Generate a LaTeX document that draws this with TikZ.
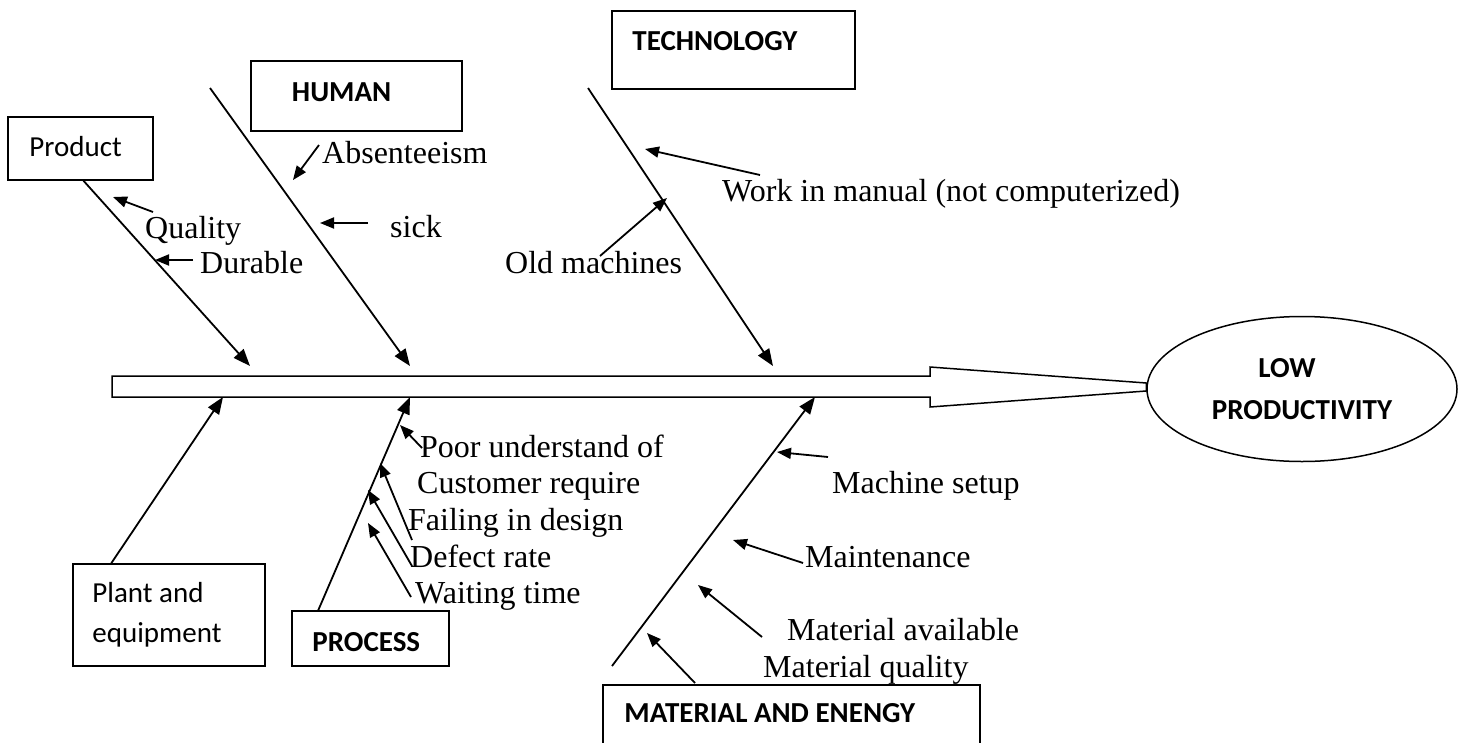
\documentclass[tikz,border=0pt]{standalone}
\usepackage{fontspec}
\setmainfont{Liberation Serif}
\newfontfamily\calibri{Carlito}
\usepackage{tikz}
\usetikzlibrary{shapes.geometric}
\usetikzlibrary{arrows.meta}
\tikzstyle{catbox} = [rectangle, draw=black, line width=1.5pt, inner sep=0pt]
\tikzstyle{catname} = [font=\calibri\fontsize{29}{40}\selectfont, inner sep=0pt, anchor=west, align=left]
\tikzstyle{catbold} = [catname, font=\calibri\bfseries\fontsize{29}{40}\selectfont]
\tikzstyle{cause} = [font=\fontsize{32}{36}\selectfont, inner sep=0pt, anchor=base west]
\tikzstyle{rib} = [line width=1.8pt, -{Triangle[length=17pt,width=13pt]}]
\tikzstyle{sub} = [line width=1.8pt, -{Triangle[length=14pt,width=11pt]}]

\begin{document}
\begin{tikzpicture}[x=1pt, y=-1pt]

\useasboundingbox (0,0) rectangle (1465,742);

% effect and spine
\node (effect) [ellipse, draw=black, line width=1.5pt, minimum width=310pt, minimum height=145pt, align=center, font=\calibri\bfseries\fontsize{29}{42}\selectfont] at (1302,389) {\hspace*{-30pt}LOW\\PRODUCTIVITY};
\draw [line width=1.5pt] (112,376) -- (930,376) -- (930,367) -- ([yshift=6pt]effect.west) -- ([yshift=-2pt]effect.west) -- (930,407) -- (930,397) -- (112,397) -- cycle;

% category boxes
\node (prod) [catbox, minimum width=145pt, minimum height=63pt] at (80.5,148.5) {};
\node [catname] at ([xshift=22pt,yshift=1.5pt]prod.west) {Product};
\node (human) [catbox, minimum width=211pt, minimum height=70pt] at (356.5,96) {};
\node [catbold] at ([xshift=41.5pt,yshift=4pt]human.west) {HUMAN};
\node (tech) [catbox, minimum width=243pt, minimum height=78pt] at (733.5,50) {};
\node [catbold] at ([xshift=21pt,yshift=9pt]tech.west) {TECHNOLOGY};
\node (plant) [catbox, minimum width=192pt, minimum height=102pt] at (169,615) {};
\node [catname] at ([xshift=20pt]plant.west) {Plant and\\equipment};
\node (proc) [catbox, minimum width=157pt, minimum height=55pt] at (370.5,638.5) {};
\node [catbold] at ([xshift=21pt,yshift=-3.5pt]proc.west) {PROCESS};
\node (mat) [catbox, minimum width=377pt, minimum height=65pt] at (791.5,717.5) {};
\node [catbold] at ([xshift=22pt,yshift=4.5pt]mat.west) {MATERIAL AND ENENGY};

% ribs
\coordinate (pend) at (250,366);
\coordinate (htop) at (210,88);
\coordinate (hend) at (410,366);
\coordinate (ttop) at (588,88);
\coordinate (tend) at (773,366);
\coordinate (plend) at (223,397);
\coordinate (prend) at (410,397);
\coordinate (mtop) at (612,666);
\coordinate (mend) at (815,397);
\draw [rib] ([xshift=3pt]prod.south) -- (pend);
\draw [rib] (htop) -- (hend);
\draw [rib] (ttop) -- (tend);
\draw [rib] ([xshift=39pt]plant.north west) -- (plend);
\draw [rib] ([xshift=27pt]proc.north west) -- (prend);
\draw [rib] (mtop) -- (mend);

% product causes
\node (qual) [cause] at (145,238) {Quality};
\node (dur) [cause] at (200,273) {Durable};
\coordinate (q1) at (153,212); \coordinate (q2) at (113,197);
\coordinate (d1) at (193,260); \coordinate (d2) at (155,260);
\draw [sub] (q1) -- (q2);
\draw [sub] (d1) -- (d2);

% human causes
\node (abs) [cause] at (322,163) {Absenteeism};
\node (sick) [cause] at (390,237) {sick};
\coordinate (a1) at (319,145); \coordinate (a2) at (293,180);
\coordinate (s1) at (368,223); \coordinate (s2) at (320,223);
\draw [sub] (a1) -- (a2);
\draw [sub] (s1) -- (s2);

% technology causes
\node (work) [cause] at (722,201) {Work in manual (not computerized)};
\node (old) [cause] at (505,273) {Old machines};
\coordinate (w1) at (760,175); \coordinate (w2) at (645,149);
\coordinate (o1) at (600,256); \coordinate (o2) at (667,198);
\draw [sub] (w1) -- (w2);
\draw [sub] (o1) -- (o2);

% process causes
\node (poor) [cause] at (420,457) {Poor understand of};
\node (cust) [cause] at (417,493) {Customer require};
\node (fail) [cause] at (408,530) {Failing in design};
\node (defect) [cause] at (410,567) {Defect rate};
\node (wait) [cause] at (415,603) {Waiting time};
\coordinate (c1) at (422,448); \coordinate (c2) at (400,425);
\coordinate (f1) at (412,540); \coordinate (f2) at (380,463);
\coordinate (e1) at (412,566); \coordinate (e2) at (368,490);
\coordinate (t1) at (411,597); \coordinate (t2) at (368,523);
\draw [sub] (c1) -- (c2);
\draw [sub] (f1) -- (f2);
\draw [sub] (e1) -- (e2);
\draw [sub] (t1) -- (t2);

% material causes
\node (setup) [cause] at (832,493) {Machine setup};
\node (maint) [cause] at (805,567) {Maintenance};
\node (avail) [cause] at (787,640) {Material available};
\node (mqual) [cause] at (763,677) {Material quality};
\coordinate (m1) at (828,457); \coordinate (m2) at (777,452);
\coordinate (n1) at (803,563); \coordinate (n2) at (733,540);
\coordinate (v1) at (762,637); \coordinate (v2) at (698,585);
\coordinate (u1) at (695,683); \coordinate (u2) at (647,633);
\draw [sub] (m1) -- (m2);
\draw [sub] (n1) -- (n2);
\draw [sub] (v1) -- (v2);
\draw [sub] (u1) -- (u2);

\end{tikzpicture}
\end{document}
